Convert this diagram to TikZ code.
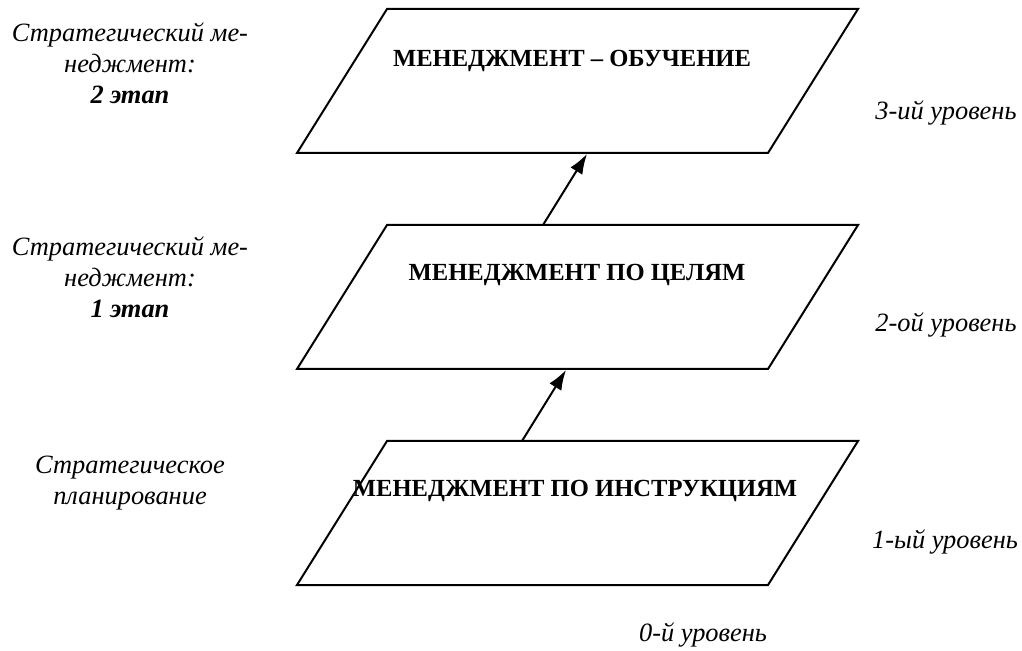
\documentclass[tikz,border=0pt]{standalone}
\usepackage{fontspec}
\setmainfont{Liberation Serif}
\usetikzlibrary{arrows.meta, positioning}

\begin{document}
\begin{tikzpicture}[x=0.5pt, y=-0.5pt,
        level/.style={draw, line width=1pt, line join=miter},
        title/.style={font=\fontsize{12.3}{14}\selectfont\bfseries},
        note/.style={font=\fontsize{13.2}{15.5}\selectfont\itshape, align=center},
        up/.style={line width=1pt, -{Latex[length=10pt, width=7pt]}}]
        \useasboundingbox (0,0) rectangle (1022,651);

        % Draw the levels
        \draw[level] (387,9) -- (858,9) -- (768,153) -- (297,153) -- cycle;       % Level 3
        \draw[level] (387,225) -- (858,225) -- (768,369) -- (297,369) -- cycle;   % Level 2
        \draw[level] (387,441) -- (858,441) -- (768,585) -- (297,585) -- cycle;   % Level 1

        % Names of the levels
        \node[title] (t3) at (572,61) {МЕНЕДЖМЕНТ – ОБУЧЕНИЕ};
        \node[title] (t2) at (577,275) {МЕНЕДЖМЕНТ ПО ЦЕЛЯМ};
        \node[title] (t1) at (575,491) {МЕНЕДЖМЕНТ ПО ИНСТРУКЦИЯМ};

        % Draw the arrows
        \coordinate (a2) at (543,225);
        \coordinate (b3) at (587,154);
        \coordinate (a1) at (522,441);
        \coordinate (b2) at (566,370);
        \draw[up] (a2) -- (b3);
        \draw[up] (a1) -- (b2);

        % Label the stages
        \node[note] (s2) at (130,63) {Стратегический ме-\\неджмент:\\\textbf{2 этап}};
        \node[note] (s1) at (130,277) {Стратегический ме-\\неджмент:\\\textbf{1 этап}};
        \node[note] (s0) at (130,483) {Стратегическое\\планирование};

        % Label the levels
        \node[note] (u3) at (946,113) {3-ий уровень};
        \node[note] (u2) at (946,325) {2-ой уровень};
        \node[note] (u1) at (945,542) {1-ый уровень};
        \node[note] (u0) at (703,635) {0-й уровень};
    \end{tikzpicture}
\end{document}
